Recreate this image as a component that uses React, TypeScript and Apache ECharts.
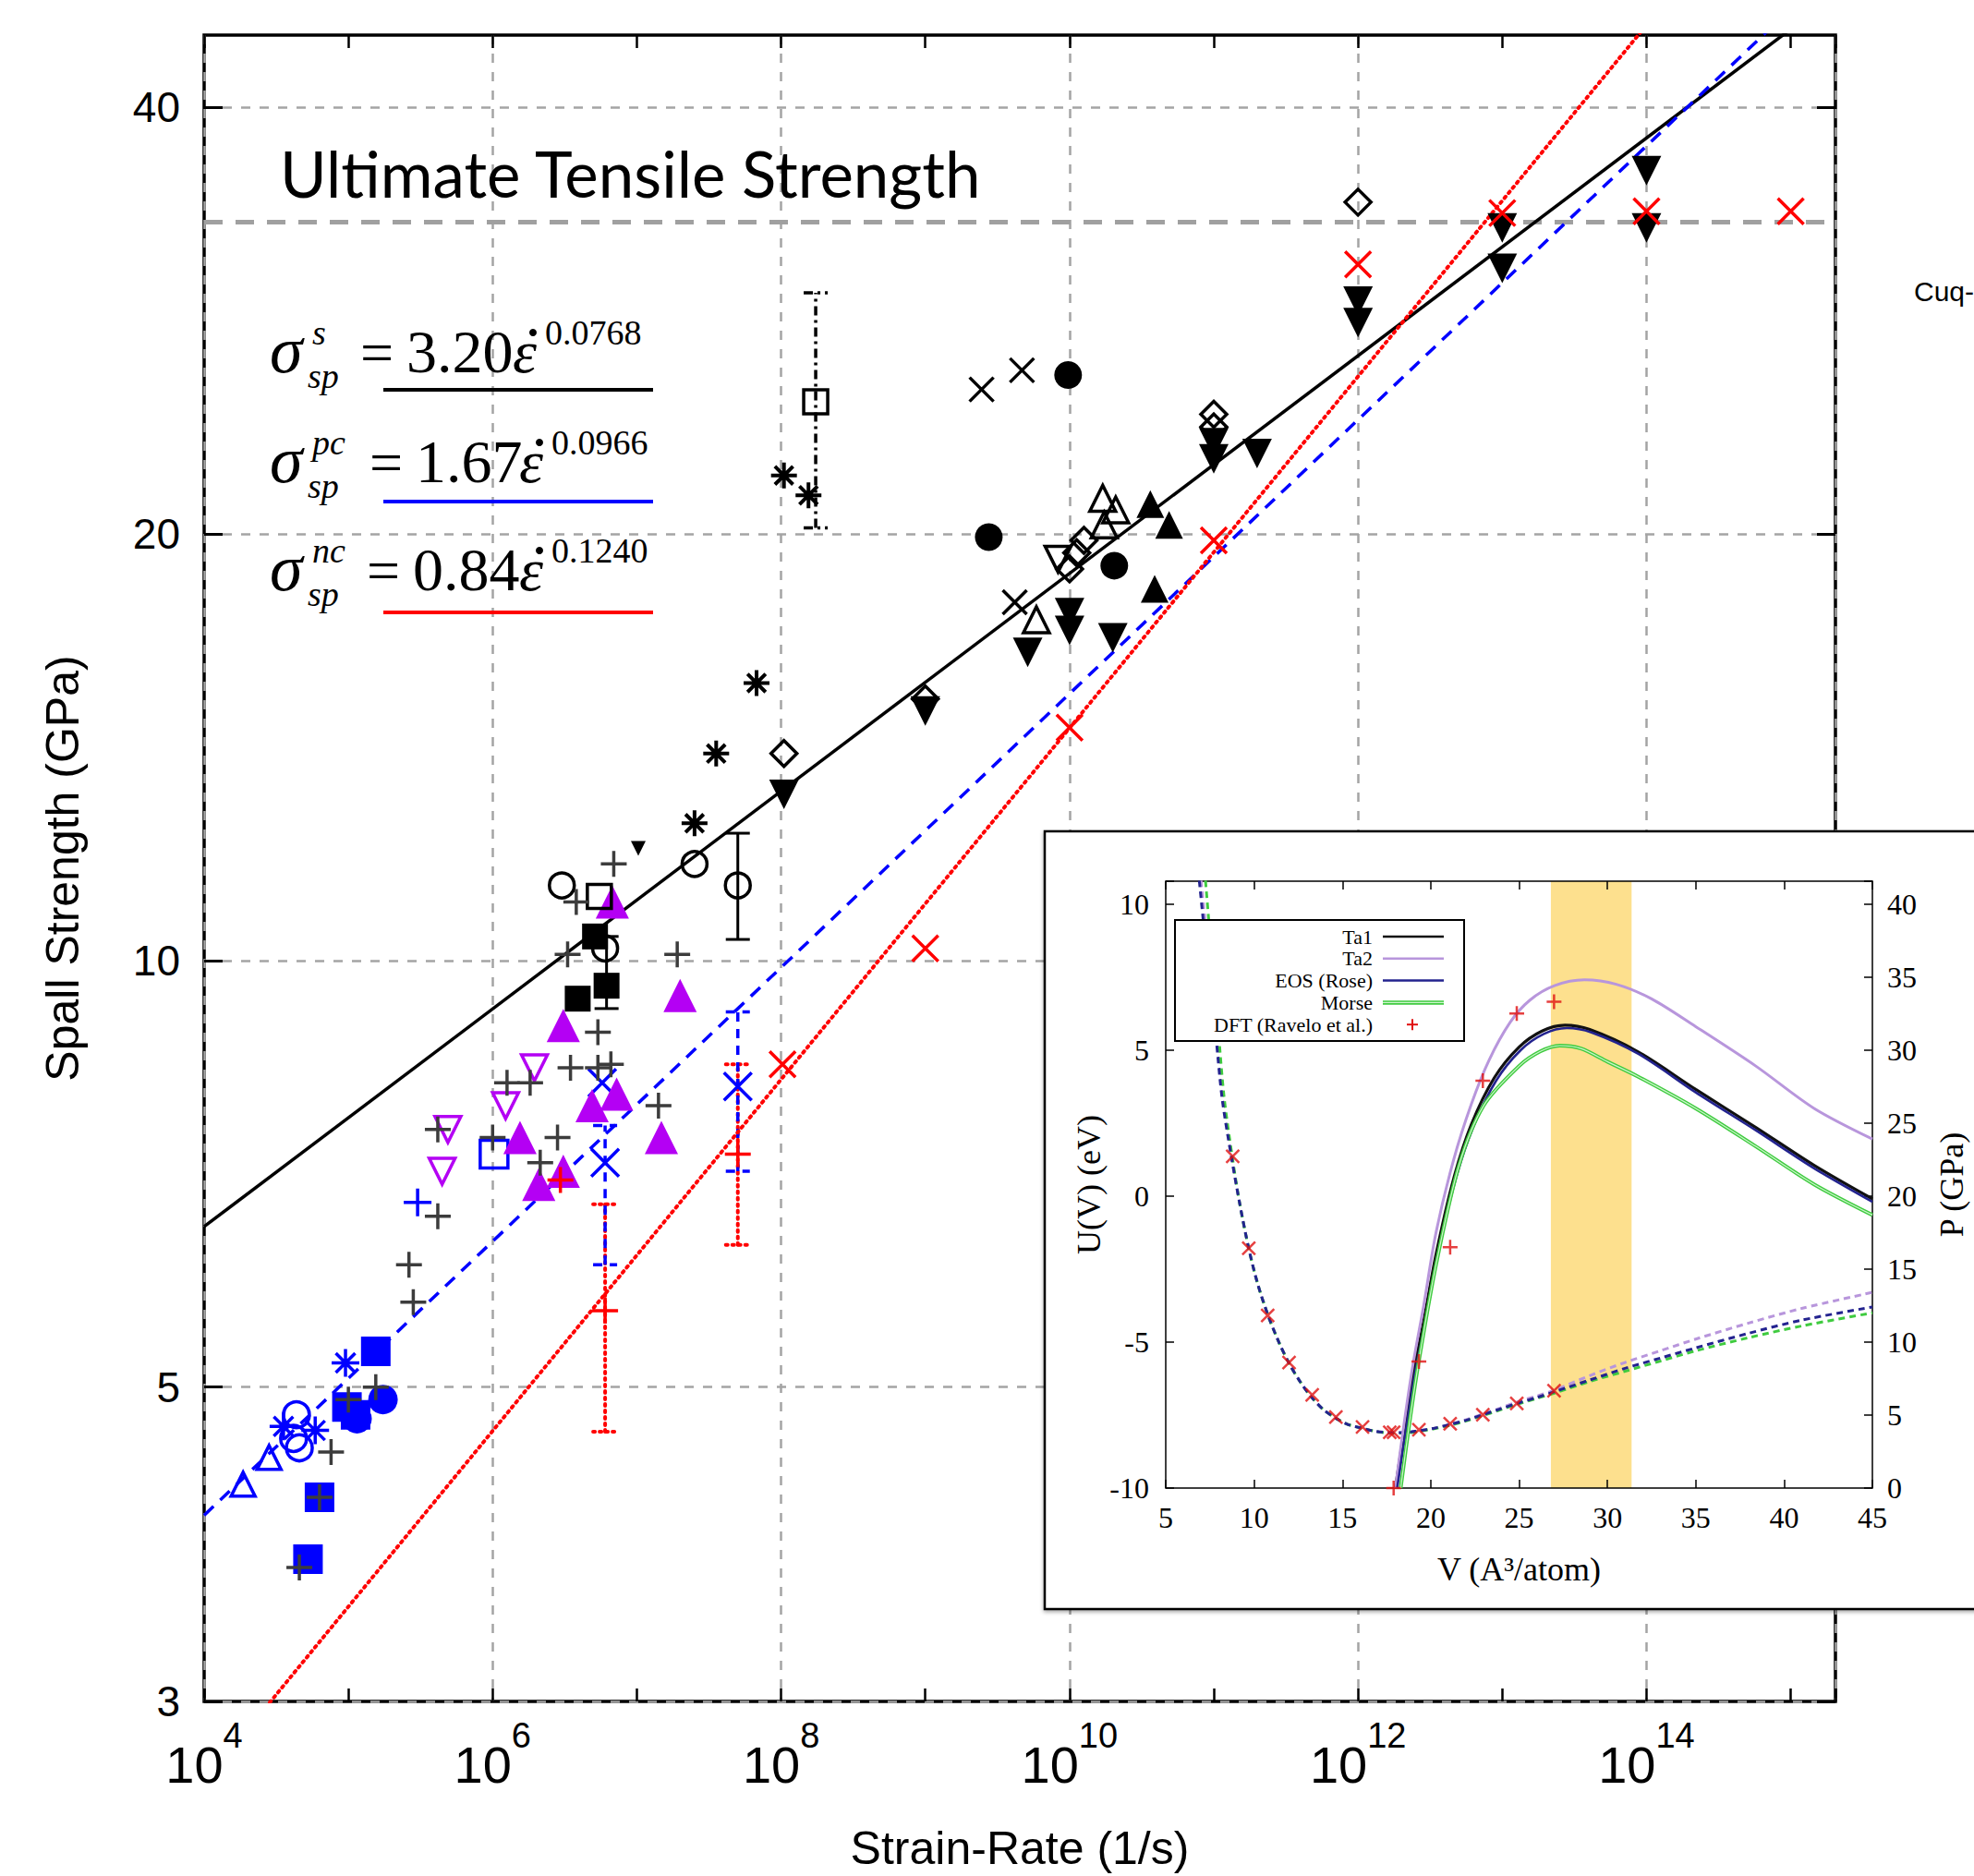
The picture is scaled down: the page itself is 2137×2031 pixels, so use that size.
import React, { useEffect, useRef } from "react";
import * as echarts from "echarts";

const W = 2137;
const H = 2031;

// ---------------- main chart: axes ----------------
const xExpRange = [4, 15.31]; // log10 strain-rate (1/s)
const yGpaRange = [3, 45]; // spall strength (GPa)
const yTickValues = [3, 5, 10, 20, 40];
const utsLevel = 33.2; // ultimate tensile strength (GPa)

// ---------------- fit lines: [log10 rate, GPa] ----------------
const fitSingle = [[4, 6.49], [15.31, 48.0]];
const fitPoly = [[4, 4.06], [15.31, 50.3]];
const fitNano = [[4, 2.63], [15.31, 66.5]];

// ---------------- scatter groups: [log10 rate, GPa] ----------------
const darkPlus = [[6.84, 11.7], [6.58, 11.0], [6.52, 10.1], [7.28, 10.1], [6.73, 8.9], [6.54, 8.4], [6.73, 8.4], [6.82, 8.45], [7.15, 7.9], [6.10, 8.2], [6.26, 8.2], [5.62, 7.6], [6.00, 7.5], [6.45, 7.5], [6.33, 7.2], [5.62, 6.6], [5.42, 6.1], [5.45, 5.74], [5.19, 5.0], [5.00, 4.9], [4.88, 4.5], [4.80, 4.18], [4.66, 3.73]];
const bluePlus = [[5.48, 6.75]];
const blueSquare = [[5.19, 5.3], [4.99, 4.84], [5.05, 4.78], [4.80, 4.18], [4.72, 3.78]];
const blueCircle = [[5.24, 4.9], [5.06, 4.75]];
const blueCircleOpen = [[4.64, 4.78], [4.62, 4.6], [4.66, 4.53]];
const blueStar = [[4.98, 5.2], [4.55, 4.69], [4.77, 4.66]];
const blueTriOpen = [[4.45, 4.46], [4.27, 4.27]];
const blueSquareOpen = [[6.01, 7.3]];
const blueCross = [[6.76, 8.2], [6.78, 7.2], [7.70, 8.15]];
const purpleTri = [[6.83, 11.0], [6.49, 9.0], [7.30, 9.45], [6.69, 7.9], [6.86, 8.05], [7.17, 7.5], [6.19, 7.5], [6.32, 6.95], [6.49, 7.1]];
const purpleTriDownOpen = [[6.29, 8.4], [6.09, 7.9], [5.69, 7.6], [5.65, 7.1]];
const redPlus = [[6.47, 7.0], [6.78, 5.66], [7.70, 7.3]];
const redCross = [[8.01, 8.45], [9.0, 10.2], [10.0, 14.6], [11.0, 19.8], [12.0, 31.0], [13.0, 33.7], [14.0, 33.8], [15.0, 33.8]];
const blackDiamondOpen = [[12.0, 34.3], [11.0, 24.3], [11.0, 23.8], [10.0, 18.9], [10.05, 19.4], [10.1, 19.8], [9.0, 15.3], [8.02, 14.0]];
const blackTriDown = [[12.0, 29.2], [12.0, 28.2], [13.0, 32.9], [13.0, 30.8], [14.0, 36.1], [14.0, 32.9], [11.0, 23.2], [11.0, 22.6], [11.3, 22.8], [10.0, 17.6], [10.0, 17.1], [10.3, 16.9], [9.71, 16.5], [9.0, 15.0], [8.02, 13.1]];
const blackTriDownSmall = [[7.01, 12.0]];
const blackTriUp = [[10.56, 21.0], [10.69, 20.3], [10.59, 18.3]];
const blackTriUpOpen = [[10.23, 21.2], [10.32, 20.8], [10.24, 20.3], [9.77, 17.4]];
const blackTriDownOpen = [[9.92, 19.2]];
const blackCircle = [[9.99, 25.9], [9.44, 19.9], [10.31, 19.0]];
const blackCross = [[9.39, 25.3], [9.67, 26.1], [9.62, 17.9]];
const blackStar = [[8.02, 22.0], [8.19, 21.3], [7.83, 15.7], [7.55, 14.0], [7.40, 12.5]];
const blackCircleOpen = [[7.70, 11.3], [7.40, 11.7], [6.48, 11.3], [6.78, 10.2]];
const blackSquareOpen = [[8.24, 24.8], [6.74, 11.1]];
const blackSquare = [[6.71, 10.4], [6.79, 9.6], [6.59, 9.4]];

// error bars: [log10 rate, low GPa, high GPa]
const errSolid = [[7.70, 10.35, 12.3], [6.79, 9.25, 10.4]];
const errDashDot = [[8.24, 20.2, 29.6]];
const errDotted = [[6.78, 4.65, 6.73], [7.70, 6.3, 8.45]];
const errDashed = [[6.78, 6.1, 7.65], [7.70, 7.1, 9.2]];

// ---------------- inset chart ----------------
const insetV = [5, 45];
const insetU = [-10, 10.78];
const insetP = [0, 41.56];
const band = [[26.8, 31.37]];

const pTa1 = [[18.0, 0], [18.5, 4.0], [19.0, 7.8], [19.6, 11.4], [20.3, 16.0], [21.3, 21.2], [22.3, 24.9], [23.6, 28.1], [25.0, 30.2], [26.3, 31.3], [27.6, 31.7], [29.0, 31.4], [31.7, 29.9], [35.0, 27.3], [38.4, 24.7], [41.7, 22.1], [45.0, 19.8]];
const pEos = [[18.1, 0], [18.6, 4.0], [19.1, 7.8], [19.7, 11.4], [20.4, 16.0], [21.4, 21.1], [22.4, 24.7], [23.7, 27.9], [25.1, 30.0], [26.4, 31.1], [27.7, 31.5], [29.1, 31.2], [31.8, 29.7], [35.0, 27.1], [38.4, 24.5], [41.7, 21.9], [45.0, 19.6]];
const pTa2 = [[18.0, 0], [18.5, 4.5], [19.0, 8.5], [19.6, 12.5], [20.3, 17.5], [21.3, 22.5], [22.3, 26.3], [23.3, 29.3], [24.5, 31.9], [25.6, 33.4], [27.0, 34.4], [28.7, 34.8], [30.5, 34.5], [32.5, 33.5], [35.0, 31.6], [38.4, 28.9], [41.7, 26.0], [45.0, 23.9]];
const pMorse = [[18.3, 0], [18.8, 4.5], [19.3, 8.5], [20.3, 15.3], [21.6, 22.1], [23.0, 26.2], [25.0, 28.9], [26.2, 29.9], [27.3, 30.3], [28.5, 30.1], [30.0, 29.2], [31.7, 28.2], [35.0, 26.0], [38.4, 23.4], [41.7, 20.8], [45.0, 18.7]];

const uEos = [[6.9, 10.8], [7.2, 9.0], [7.5, 7.5], [7.85, 5.4], [8.2, 3.3], [8.7, 1.4], [9.2, -0.3], [9.7, -1.8], [10.2, -3.0], [10.8, -4.1], [11.4, -5.0], [12.0, -5.75], [12.6, -6.35], [13.2, -6.85], [13.9, -7.3], [14.6, -7.6], [15.3, -7.82], [16.1, -7.95], [16.9, -8.06], [17.7, -8.1], [18.5, -8.1], [19.3, -8.04], [20.2, -7.95], [21.1, -7.82], [22.0, -7.68], [22.9, -7.5], [23.9, -7.3], [24.9, -7.1], [26.0, -6.9], [27.0, -6.7], [29.0, -6.3], [31.0, -5.9], [33.0, -5.55], [35.0, -5.2], [38.0, -4.7], [41.0, -4.25], [45.0, -3.8]];
const uTa2 = [[7.0, 10.8], [7.3, 9.0], [7.6, 7.5], [7.9, 5.4], [8.25, 3.3], [8.7, 1.4], [9.2, -0.3], [9.7, -1.8], [10.2, -3.0], [10.8, -4.1], [11.4, -5.0], [12.0, -5.75], [12.6, -6.35], [13.2, -6.85], [13.9, -7.3], [14.6, -7.6], [15.3, -7.82], [16.1, -7.95], [16.9, -8.06], [17.7, -8.1], [18.5, -8.1], [19.3, -8.04], [20.2, -7.95], [21.1, -7.82], [22.0, -7.66], [22.9, -7.48], [23.9, -7.27], [24.9, -7.05], [26.0, -6.85], [27.0, -6.65], [29.0, -6.15], [31.0, -5.7], [33.0, -5.3], [35.0, -4.9], [38.0, -4.35], [41.0, -3.85], [45.0, -3.3]];
const uMorse = [[7.25, 10.8], [7.5, 9.0], [7.75, 7.5], [8.0, 5.5], [8.3, 3.4], [8.75, 1.4], [9.2, -0.3], [9.7, -1.8], [10.2, -3.0], [10.8, -4.1], [11.4, -5.0], [12.0, -5.75], [12.6, -6.35], [13.2, -6.85], [13.9, -7.3], [14.6, -7.6], [15.3, -7.82], [16.1, -7.95], [16.9, -8.06], [17.7, -8.12], [18.5, -8.12], [19.3, -8.06], [20.2, -7.97], [21.1, -7.85], [22.0, -7.7], [22.9, -7.53], [23.9, -7.33], [24.9, -7.13], [26.0, -6.93], [27.0, -6.75], [29.0, -6.35], [31.0, -6.0], [33.0, -5.65], [35.0, -5.3], [38.0, -4.85], [41.0, -4.45], [45.0, -4.0]];
const dftEnergy = [[8.79, 1.36], [9.70, -1.79], [10.77, -4.09], [11.98, -5.70], [13.29, -6.81], [14.63, -7.57], [16.14, -7.91], [17.68, -8.09], [17.9, -8.09], [19.33, -8.0], [21.1, -7.8], [22.95, -7.49], [24.87, -7.1], [26.98, -6.67]];
const dftPressure = [[17.9, 0], [19.33, 8.67], [21.1, 16.5], [22.95, 27.9], [24.87, 32.5], [26.98, 33.3]];

// legend entries of the inset
const insetLegend = [
  { name: "Ta1", color: "#111111", kind: "line" },
  { name: "Ta2", color: "#b896dc", kind: "line" },
  { name: "EOS (Rose)", color: "#23238f", kind: "line" },
  { name: "Morse", color: "#3fcb3f", kind: "double" },
  { name: "DFT (Ravelo et al.)", color: "#e01010", kind: "plus" },
];

// ---------------- styling ----------------
const SANS = '"Liberation Sans", Arial, sans-serif';
const NARROW = '"Liberation Sans Narrow", "Liberation Sans", Arial, sans-serif';
const SERIF = '"Liberation Serif", "Times New Roman", serif';
const TITLE_FONT = 'Lato, "Open Sans", sans-serif';
const PURPLE = "#b400f4";
const DARK = "#3c3c3c";
const GRID_GRAY = "#a4a4a4";

const PLUS = "path://M0,-10L0,10M-10,0L10,0";
const CROSS = "path://M-10,-10L10,10M-10,10L10,-10";
const STAR = "path://M0,-10L0,10M-10,0L10,0M-7,-7L7,7M-7,7L7,-7";
const TRI_DOWN = "path://M-10,-8.66L10,-8.66L0,8.66Z";
const TRI_UP = "path://M-10,8.66L10,8.66L0,-8.66Z";
const DIAMOND = "path://M0,-10L10,0L0,10L-10,0Z";

const lg = (d: number[][]) => d.map((p) => [p[0], Math.log10(p[1])]);

function sc(name: string, data: number[][], symbol: string, size: number, fill: string, stroke: string, bw: number) {
  return {
    type: "scatter",
    name,
    xAxisIndex: 0,
    yAxisIndex: 0,
    data: lg(data),
    symbol,
    symbolSize: size,
    silent: true,
    z: 4,
    itemStyle: { color: fill, borderColor: stroke, borderWidth: bw, opacity: 1 },
  };
}

function fitLine(name: string, data: number[][], color: string, width: number, type: any, cap = "butt") {
  return {
    type: "line",
    name,
    xAxisIndex: 0,
    yAxisIndex: 0,
    data: lg(data),
    showSymbol: false,
    symbol: "none",
    silent: true,
    clip: true,
    z: 3,
    lineStyle: { color, width, type, cap },
  };
}

function errBars(name: string, data: number[][], color: string, dash: number[] | null, width: number) {
  return {
    type: "custom",
    name,
    xAxisIndex: 0,
    yAxisIndex: 0,
    z: 3,
    silent: true,
    data: data.map((d) => [d[0], Math.log10(d[1]), Math.log10(d[2])]),
    encode: { x: 0, y: [1, 2] },
    renderItem: (_p: any, api: any) => {
      const lo = api.coord([api.value(0), api.value(1)]);
      const hi = api.coord([api.value(0), api.value(2)]);
      const c = 13;
      const style: any = { stroke: color, lineWidth: width, fill: "none", lineCap: dash && dash[0] <= 3 ? "round" : "butt" };
      if (dash) style.lineDash = dash;
      return {
        type: "group",
        children: [
          { type: "line", shape: { x1: lo[0], y1: lo[1], x2: hi[0], y2: hi[1] }, style },
          { type: "line", shape: { x1: lo[0] - c, y1: lo[1], x2: lo[0] + c, y2: lo[1] }, style },
          { type: "line", shape: { x1: hi[0] - c, y1: hi[1], x2: hi[0] + c, y2: hi[1] }, style },
        ],
      };
    },
  };
}

function insetLine(name: string, data: number[][], yIdx: number, color: string, width: number, dashed: boolean, z = 62) {
  return {
    type: "line",
    name,
    xAxisIndex: 3,
    yAxisIndex: yIdx,
    data,
    showSymbol: false,
    symbol: "none",
    smooth: 0.3,
    silent: true,
    clip: true,
    z,
    itemStyle: { color },
    lineStyle: { color, width, type: dashed ? [7, 5] : "solid" },
  };
}

// ---------------- equations (text annotations) ----------------
const equations = [
  { sup: "s", num: "3.20", exp: "0.0768", color: "#000000", B: 403, eqX: 390, numX: 440, epsX: 555, expX: 590, ul: 422 },
  { sup: "pc", num: "1.67", exp: "0.0966", color: "#0000ff", B: 522, eqX: 400, numX: 450, epsX: 562, expX: 597, ul: 543 },
  { sup: "nc", num: "0.84", exp: "0.1240", color: "#ff0000", B: 639, eqX: 397, numX: 447, epsX: 562, expX: 597, ul: 663 },
];

function txt(text: string, x: number, baseline: number, size: number, italic: boolean, extra: any = {}) {
  return {
    type: "text",
    x,
    y: baseline - 0.34 * size,
    z: 10,
    silent: true,
    style: {
      text,
      fill: "#000",
      fontSize: size,
      fontFamily: SERIF,
      fontStyle: italic ? "italic" : "normal",
      textAlign: "left",
      textVerticalAlign: "middle",
      ...extra,
    },
  };
}

function buildGraphic() {
  const els: any[] = [];
  equations.forEach((e) => {
    els.push(txt("σ", 292, e.B, 72, true));
    els.push(txt(e.sup, 338, e.B - 30, 38, true));
    els.push(txt("sp", 333, e.B + 17, 38, true));
    els.push(txt("=", e.eqX, e.B, 64, false));
    els.push(txt(e.num, e.numX, e.B, 66, false));
    els.push(txt("ε", e.epsX, e.B, 66, true));
    els.push({ type: "circle", z: 10, silent: true, shape: { cx: e.epsX + 22, cy: e.B - 43, r: 4 }, style: { fill: "#000" } });
    els.push(txt(e.exp, e.expX, e.B - 30, 38, false));
    els.push({ type: "line", z: 10, silent: true, shape: { x1: 415, y1: e.ul, x2: 707, y2: e.ul }, style: { stroke: e.color, lineWidth: 4 } });
  });
  els.push({
    type: "text", x: 303, y: 187, z: 10, silent: true,
    style: { text: "Ultimate Tensile Strength", fill: "#000", fontSize: 69, fontFamily: TITLE_FONT, textAlign: "left", textVerticalAlign: "middle" },
  });
  els.push({
    type: "text", x: 2072, y: 315, z: 10, silent: true,
    style: { text: "Cuq-", fill: "#000", fontSize: 30, fontFamily: SANS, textAlign: "left", textVerticalAlign: "middle" },
  });
  // inset panel background
  els.push({
    type: "rect", z: 50, silent: true,
    shape: { x: 1131, y: 900, width: 1030, height: 842 },
    style: { fill: "#ffffff", stroke: "#000", lineWidth: 2.5, shadowColor: "rgba(0,0,0,0.35)", shadowBlur: 4, shadowOffsetY: 2 },
  });
  // inset legend
  const lx = 1272, ly = 996, lw = 313, lh = 131;
  els.push({ type: "rect", z: 70, silent: true, shape: { x: lx, y: ly, width: lw, height: lh }, style: { fill: "#fff", stroke: "#000", lineWidth: 2 } });
  insetLegend.forEach((it, i) => {
    const cy = 1014 + i * 23.8;
    els.push({
      type: "text", z: 71, silent: true, x: 1486, y: cy,
      style: { text: it.name, fill: "#000", fontSize: 22, fontFamily: SERIF, textAlign: "right", textVerticalAlign: "middle" },
    });
    if (it.kind === "plus") {
      els.push({ type: "line", z: 71, silent: true, shape: { x1: 1523, y1: cy, x2: 1535, y2: cy }, style: { stroke: it.color, lineWidth: 2 } });
      els.push({ type: "line", z: 71, silent: true, shape: { x1: 1529, y1: cy - 6, x2: 1529, y2: cy + 6 }, style: { stroke: it.color, lineWidth: 2 } });
    } else {
      els.push({ type: "line", z: 71, silent: true, shape: { x1: 1497, y1: cy, x2: 1563, y2: cy }, style: { stroke: it.color, lineWidth: it.kind === "double" ? 4.5 : 2.5 } });
      if (it.kind === "double") {
        els.push({ type: "line", z: 72, silent: true, shape: { x1: 1497, y1: cy, x2: 1563, y2: cy }, style: { stroke: "#cdf5cd", lineWidth: 1.3 } });
      }
    }
  });
  return els;
}

function buildOption(): any {
  const yLogMin = Math.log10(yGpaRange[0]);
  const yLogMax = Math.log10(yGpaRange[1]);
  const yCustom = yTickValues.map((v) => Math.log10(v));

  const series: any[] = [
    {
      type: "line", name: "UTS", xAxisIndex: 0, yAxisIndex: 0, showSymbol: false, symbol: "none", silent: true, z: 2,
      data: [[xExpRange[0], Math.log10(utsLevel)], [xExpRange[1], Math.log10(utsLevel)]],
      lineStyle: { color: "#a0a0a0", width: 5, type: [20, 14] },
    },
    errBars("errSolid", errSolid, "#000", null, 3),
    errBars("errDashDot", errDashDot, "#000", [10, 5, 3, 5], 3.5),
    errBars("errDotted", errDotted, "#ff0000", [2, 5], 4),
    errBars("errDashed", errDashed, "#0000ff", [10, 8], 3.5),
    fitLine("fitSingle", fitSingle, "#000", 3.5, "solid"),
    fitLine("fitPoly", fitPoly, "#0000ff", 3.5, [14, 10]),
    fitLine("fitNano", fitNano, "#ff0000", 4, [2, 5], "round"),
    // blue (polycrystal, low rate)
    sc("blueTriOpen", blueTriOpen, TRI_UP, 26, "rgba(0,0,0,0)", "#0000ff", 3.5),
    sc("blueCircleOpen", blueCircleOpen, "circle", 28, "rgba(0,0,0,0)", "#0000ff", 3.5),
    sc("blueStar", blueStar, STAR, 30, "rgba(0,0,0,0)", "#0000ff", 3.5),
    sc("blueSquare", blueSquare, "rect", 32, "#0000ff", "#0000ff", 0),
    sc("blueCircle", blueCircle, "circle", 32, "#0000ff", "#0000ff", 0),
    sc("blueSquareOpen", blueSquareOpen, "rect", 30, "rgba(0,0,0,0)", "#0000ff", 3.5),
    sc("bluePlus", bluePlus, PLUS, 30, "rgba(0,0,0,0)", "#0000ff", 3.5),
    sc("blueCross", blueCross, CROSS, 30, "rgba(0,0,0,0)", "#0000ff", 3.5),
    // purple
    sc("purpleTriDownOpen", purpleTriDownOpen, TRI_DOWN, 28, "rgba(0,0,0,0)", PURPLE, 3.5),
    sc("purpleTri", purpleTri, TRI_UP, 36, PURPLE, PURPLE, 0),
    // black
    sc("blackSquare", blackSquare, "rect", 28, "#000", "#000", 0),
    sc("blackSquareOpen", blackSquareOpen, "rect", 26, "rgba(0,0,0,0)", "#000", 3.5),
    sc("blackCircleOpen", blackCircleOpen, "circle", 27, "rgba(0,0,0,0)", "#000", 3.5),
    sc("blackCircle", blackCircle, "circle", 30, "#000", "#000", 0),
    sc("blackStar", blackStar, STAR, 28, "rgba(0,0,0,0)", "#000", 4),
    sc("blackCross", blackCross, CROSS, 26, "rgba(0,0,0,0)", "#000", 3.5),
    sc("blackTriUp", blackTriUp, TRI_UP, 30, "#000", "#000", 0),
    sc("blackTriUpOpen", blackTriUpOpen, TRI_UP, 28, "rgba(0,0,0,0)", "#000", 3.5),
    sc("blackTriDownOpen", blackTriDownOpen, TRI_DOWN, 28, "rgba(0,0,0,0)", "#000", 3.5),
    sc("blackTriDown", blackTriDown, TRI_DOWN, 32, "#000", "#000", 0),
    sc("blackTriDownSmall", blackTriDownSmall, TRI_DOWN, 16, "#000", "#000", 0),
    sc("blackDiamondOpen", blackDiamondOpen, DIAMOND, 28, "rgba(0,0,0,0)", "#000", 3.5),
    sc("darkPlus", darkPlus, PLUS, 28, "rgba(0,0,0,0)", DARK, 3.5),
    sc("redPlus", redPlus, PLUS, 28, "rgba(0,0,0,0)", "#ff0000", 3.5),
    sc("redCross", redCross, CROSS, 28, "rgba(0,0,0,0)", "#ff0000", 3.5),

    // ---------- inset ----------
    {
      type: "custom", name: "band", xAxisIndex: 3, yAxisIndex: 2, z: 61, silent: true, data: band,
      renderItem: (_p: any, api: any) => {
        const a = api.coord([api.value(0), insetU[1]]);
        const b = api.coord([api.value(1), insetU[0]]);
        return { type: "rect", shape: { x: a[0], y: a[1], width: b[0] - a[0], height: b[1] - a[1] }, style: { fill: "#fde08e" } };
      },
    },
    insetLine("Ta1", pTa1, 3, "#111111", 3.2, false, 63),
    insetLine("Ta2", pTa2, 3, "#b896dc", 3, false, 63),
    insetLine("EOS (Rose)", pEos, 3, "#23238f", 2.6, false, 63),
    insetLine("Morse", pMorse, 3, "#3fcb3f", 4, false, 63),
    insetLine("Morse", pMorse, 3, "#cdf5cd", 1.2, false, 63),
    insetLine("Ta2", uTa2, 2, "#b896dc", 3, true),
    insetLine("Morse", uMorse, 2, "#3fcb3f", 3, true),
    insetLine("EOS (Rose)", uEos, 2, "#23238f", 3, true),
    {
      type: "scatter", name: "DFT (Ravelo et al.)", xAxisIndex: 3, yAxisIndex: 3, data: dftPressure, z: 64, silent: true,
      symbol: PLUS, symbolSize: 16, itemStyle: { color: "rgba(0,0,0,0)", borderColor: "#e01010", borderWidth: 2.5 },
    },
    {
      type: "scatter", name: "DFT (Ravelo et al.)", xAxisIndex: 3, yAxisIndex: 2, data: dftEnergy, z: 64, silent: true,
      symbol: CROSS, symbolSize: 14, itemStyle: { color: "rgba(0,0,0,0)", borderColor: "#e01010", borderWidth: 2.5 },
    },
  ];

  const insetTickLabel = { fontSize: 32, fontFamily: SERIF, color: "#000" };
  const intLabel = (v: number) => (Number.isInteger(v) && v % 5 === 0 ? String(v) : "");
  const noLine = { show: false, onZero: false };

  return {
    animation: false,
    backgroundColor: "#ffffff",
    grid: [
      { left: 221, top: 38, width: 1766, height: 1811, show: true, borderColor: "#000", borderWidth: 3.5, backgroundColor: "transparent" },
      { left: 1262, top: 954, width: 765, height: 657, show: true, borderColor: "#000", borderWidth: 1.5, backgroundColor: "transparent", z: 62 },
    ],
    xAxis: [
      {
        type: "value", gridIndex: 0, min: xExpRange[0], max: xExpRange[1], interval: 2, position: "bottom",
        axisLine: noLine, axisTick: { show: false },
        axisLabel: {
          margin: 40,
          formatter: (v: number) => (Number.isInteger(v) ? `{b|10}{s|${v}}` : ""),
          rich: {
            b: { fontSize: 56, lineHeight: 56, fontFamily: NARROW, color: "#000", verticalAlign: "bottom" },
            s: { fontSize: 38, lineHeight: 38, fontFamily: NARROW, color: "#000", verticalAlign: "bottom", padding: [0, 0, 40, 0] },
          },
        },
        splitLine: { show: true, lineStyle: { color: GRID_GRAY, width: 2.5, type: [10, 10] } },
        name: "Strain-Rate (1/s)", nameLocation: "middle", nameGap: 134,
        nameTextStyle: { fontSize: 50, fontFamily: NARROW, color: "#000", verticalAlign: "top" },
      },
      {
        type: "value", gridIndex: 0, min: xExpRange[0], max: xExpRange[1], interval: 1, position: "bottom",
        axisLine: noLine, axisLabel: { show: false }, splitLine: { show: false },
        axisTick: { show: true, inside: true, length: 14, lineStyle: { color: "#000", width: 2.5 } },
      },
      {
        type: "value", gridIndex: 0, min: xExpRange[0], max: xExpRange[1], interval: 1, position: "top",
        axisLine: noLine, axisLabel: { show: false }, splitLine: { show: false },
        axisTick: { show: true, inside: true, length: 14, lineStyle: { color: "#000", width: 2.5 } },
      },
      {
        type: "value", gridIndex: 1, min: insetV[0], max: insetV[1], interval: 5, position: "bottom", z: 62,
        axisLine: noLine, splitLine: { show: false },
        axisTick: { show: true, inside: true, length: 9, lineStyle: { color: "#000", width: 1.5 } },
        axisLabel: { ...insetTickLabel, margin: 16, formatter: intLabel },
        name: "V (A³/atom)", nameLocation: "middle", nameGap: 70,
        nameTextStyle: { fontSize: 36, fontFamily: SERIF, color: "#000" },
      },
      {
        type: "value", gridIndex: 1, min: insetV[0], max: insetV[1], interval: 5, position: "top", z: 62,
        axisLine: noLine, splitLine: { show: false }, axisLabel: { show: false },
        axisTick: { show: true, inside: true, length: 9, lineStyle: { color: "#000", width: 1.5 } },
      },
    ],
    yAxis: [
      {
        type: "value", gridIndex: 0, min: yLogMin, max: yLogMax, position: "left",
        axisLine: noLine,
        axisTick: { show: true, inside: true, length: 20, customValues: yCustom, lineStyle: { color: "#000", width: 3 } },
        axisLabel: {
          customValues: yCustom, margin: 26, fontSize: 46, fontFamily: SANS, color: "#000",
          formatter: (v: number) => String(Math.round(Math.pow(10, v))),
        },
        splitLine: { show: true, lineStyle: { color: GRID_GRAY, width: 2.5, type: [10, 10] } },
        name: "Spall Strength (GPa)", nameLocation: "middle", nameGap: 128, nameRotate: 90,
        nameTextStyle: { fontSize: 50, fontFamily: NARROW, color: "#000" },
      },
      {
        type: "value", gridIndex: 0, min: yLogMin, max: yLogMax, position: "right",
        axisLine: noLine, axisLabel: { show: false }, splitLine: { show: false },
        axisTick: { show: true, inside: true, length: 20, customValues: yCustom, lineStyle: { color: "#000", width: 3 } },
      },
      {
        type: "value", gridIndex: 1, min: insetU[0], max: insetU[1], interval: 5, position: "left", z: 62,
        axisLine: noLine, splitLine: { show: false },
        axisTick: { show: true, inside: true, length: 9, lineStyle: { color: "#000", width: 1.5 } },
        axisLabel: { ...insetTickLabel, margin: 18, formatter: intLabel },
        name: "U(V) (eV)", nameLocation: "middle", nameGap: 62, nameRotate: 90,
        nameTextStyle: { fontSize: 36, fontFamily: SERIF, color: "#000" },
      },
      {
        type: "value", gridIndex: 1, min: insetP[0], max: insetP[1], interval: 5, position: "right", z: 62,
        axisLine: noLine, splitLine: { show: false },
        axisTick: { show: true, inside: true, length: 9, lineStyle: { color: "#000", width: 1.5 } },
        axisLabel: { ...insetTickLabel, margin: 16, formatter: intLabel },
        name: "P (GPa)", nameLocation: "middle", nameGap: 68, nameRotate: 90,
        nameTextStyle: { fontSize: 36, fontFamily: SERIF, color: "#000" },
      },
    ],
    graphic: buildGraphic(),
    series,
  };
}

export default function App() {
  const ref = useRef<HTMLDivElement>(null);
  useEffect(() => {
    document.body.style.margin = "0";
    const chart = echarts.init(ref.current as HTMLDivElement, null, { renderer: "svg", width: W, height: H });
    chart.setOption(buildOption());
    return () => chart.dispose();
  }, []);
  return <div ref={ref} style={{ width: W, height: H }} />;
}
